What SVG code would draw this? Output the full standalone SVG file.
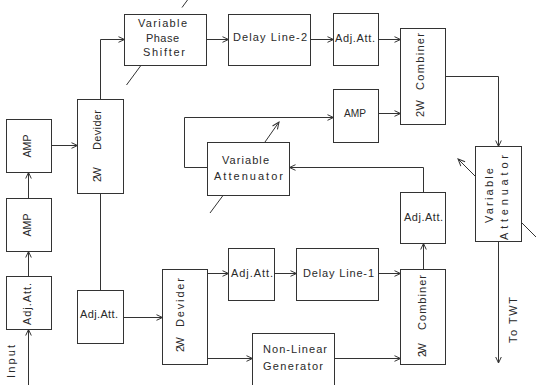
<svg xmlns="http://www.w3.org/2000/svg" width="536" height="385" viewBox="0 0 536 385">
<style>
.b{fill:#fff;stroke:#333;stroke-width:1}
.c{fill:none;stroke:#333;stroke-width:1}
.a{marker-end:url(#ah)}
.t{font-family:"Liberation Sans",Arial,sans-serif;font-size:11px;fill:#2a2a2a}
</style>
<defs>
<marker id="ah" viewBox="-8 -4 9 8" refX="0" refY="0" markerWidth="9" markerHeight="8" markerUnits="userSpaceOnUse" orient="auto" overflow="visible">
<path d="M-6,-2.8 L0,0 L-6,2.8" fill="none" stroke="#333" stroke-width="1"/>
</marker>
<marker id="sh" viewBox="-9 -4 10 8" refX="0" refY="0" markerWidth="10" markerHeight="8" markerUnits="userSpaceOnUse" orient="auto" overflow="visible">
<path d="M-7,-3 L0,0 L-7,3" fill="none" stroke="#333" stroke-width="1"/>
</marker>
</defs>
<rect x="0" y="0" width="536" height="385" fill="#fff"/>

<g id="connectors">
<path class="c a" d="M28.5,385 V329.5"/>
<path class="c a" d="M28.5,276.5 V251.5"/>
<path class="c a" d="M28.5,198.5 V172.5"/>
<path class="c a" d="M51.5,145.5 H77.5"/>
<path class="c a" d="M100.5,99.5 V39.5 H124.5"/>
<path class="c a" d="M206.5,39.5 H228.5"/>
<path class="c a" d="M310.5,39.5 H333.5"/>
<path class="c a" d="M378.5,39.5 H400.5"/>
<path class="c" d="M100.5,193.5 V290.5"/>
<path class="c a" d="M123.5,317.5 H162.5"/>
<path class="c a" d="M207.5,273.5 H228.5"/>
<path class="c a" d="M274.5,273.5 H296.5"/>
<path class="c a" d="M378.5,273.5 H400.5"/>
<path class="c a" d="M207.5,358.5 H252.5"/>
<path class="c a" d="M334.5,358.5 H400.5"/>
<path class="c a" d="M423.5,269.5 V243.5"/>
<path class="c a" d="M423.5,192.5 V167.5 H289.5"/>
<path class="c a" d="M207.5,167.5 H184.5 V117.5 H333.5"/>
<path class="c a" d="M378.5,113.5 H400.5"/>
<path class="c a" d="M445.5,76.5 H498.5 V146.5"/>
<path class="c a" d="M498.5,241.5 V363"/>
</g>

<g id="vps">
<rect class="b" x="124.5" y="14.5" width="82" height="51"/>
<path class="c" d="M126.5,85 L140.5,66 M182,7.5 L187.5,0"/>
<text class="t" x="138" y="27" textLength="49" lengthAdjust="spacing">Variable</text>
<text class="t" x="146" y="42" textLength="33" lengthAdjust="spacing">Phase</text>
<text class="t" x="143" y="56" textLength="42" lengthAdjust="spacing">Shifter</text>
</g>
<g id="dl2">
<rect class="b" x="228.5" y="14.5" width="82" height="51"/>
<text class="t" x="233" y="41" textLength="74" lengthAdjust="spacing">Delay Line-2</text>
</g>
<g id="adj-top">
<rect class="b" x="333.5" y="13.5" width="45" height="52"/>
<text class="t" x="335" y="42" textLength="40" lengthAdjust="spacing">Adj.Att.</text>
</g>
<g id="comb-up">
<rect class="b" x="400.5" y="28.5" width="45" height="96"/>
<text class="t" transform="translate(424,117) rotate(-90)"><tspan x="0" textLength="17" lengthAdjust="spacing">2W</tspan> <tspan x="27" textLength="57" lengthAdjust="spacing">Combiner</tspan></text>
</g>
<g id="amp-mid">
<rect class="b" x="333.5" y="89.5" width="45" height="53"/>
<text class="t" x="344" y="117" textLength="22" lengthAdjust="spacingAndGlyphs">AMP</text>
</g>
<g id="var-att-mid">
<rect class="b" x="207.5" y="142.5" width="82" height="53"/>
<path class="c" d="M210,213 L223,195.5"/>
<path class="c" d="M265,142 L279,122" marker-end="url(#sh)"/>
<text class="t" x="222" y="164" textLength="47" lengthAdjust="spacing">Variable</text>
<text class="t" x="214" y="180" textLength="69" lengthAdjust="spacing">Attenuator</text>
</g>
<g id="var-att-right">
<rect class="b" x="475.5" y="146.5" width="46" height="95"/>
<path class="c" d="M475,176 L458,159" marker-end="url(#sh)"/>
<path class="c" d="M522,223 L536,237"/>
<text class="t" transform="translate(493,223) rotate(-90)" textLength="55" lengthAdjust="spacing">Variable</text>
<text class="t" transform="translate(508,240) rotate(-90)" textLength="85" lengthAdjust="spacing">Attenuator</text>
</g>
<g id="amp1">
<rect class="b" x="6.5" y="119.5" width="45" height="53"/>
<text class="t" transform="translate(31,157.5) rotate(-90)" textLength="23" lengthAdjust="spacingAndGlyphs">AMP</text>
</g>
<g id="amp2">
<rect class="b" x="6.5" y="198.5" width="45" height="53"/>
<text class="t" transform="translate(31,236.5) rotate(-90)" textLength="23" lengthAdjust="spacingAndGlyphs">AMP</text>
</g>
<g id="adj-left">
<rect class="b" x="6.5" y="276.5" width="45" height="53"/>
<text class="t" transform="translate(31,325) rotate(-90)" textLength="42" lengthAdjust="spacing">Adj.Att.</text>
</g>
<g id="input">
<text class="t" transform="translate(15,378) rotate(-90)" textLength="33" lengthAdjust="spacing">Input</text>
</g>
<g id="div-up">
<rect class="b" x="77.5" y="99.5" width="46" height="94"/>
<text class="t" transform="translate(101,182) rotate(-90)"><tspan x="0" textLength="15" lengthAdjust="spacing">2W</tspan> <tspan x="32" textLength="40" lengthAdjust="spacing">Devider</tspan></text>
</g>
<g id="adj-mid">
<rect class="b" x="77.5" y="290.5" width="46" height="53"/>
<text class="t" x="80" y="318" textLength="38" lengthAdjust="spacing">Adj.Att.</text>
</g>
<g id="div-low">
<rect class="b" x="162.5" y="269.5" width="45" height="95"/>
<text class="t" transform="translate(184,352) rotate(-90)"><tspan x="0" textLength="15" lengthAdjust="spacing">2W</tspan> <tspan x="25" textLength="49" lengthAdjust="spacing">Devider</tspan></text>
</g>
<g id="adj-bot">
<rect class="b" x="228.5" y="248.5" width="46" height="52"/>
<text class="t" x="231" y="277" textLength="42" lengthAdjust="spacing">Adj.Att.</text>
</g>
<g id="dl1">
<rect class="b" x="296.5" y="248.5" width="82" height="52"/>
<text class="t" x="303" y="277" textLength="71" lengthAdjust="spacing">Delay Line-1</text>
</g>
<g id="nlg">
<rect class="b" x="252.5" y="333.5" width="82" height="60"/>
<text class="t" x="263" y="353" textLength="64" lengthAdjust="spacing">Non-Linear</text>
<text class="t" x="263" y="370" textLength="60" lengthAdjust="spacing">Generator</text>
</g>
<g id="comb-low">
<rect class="b" x="400.5" y="269.5" width="45" height="95"/>
<text class="t" transform="translate(426,357) rotate(-90)"><tspan x="0" textLength="14" lengthAdjust="spacing">2W</tspan> <tspan x="27" textLength="55" lengthAdjust="spacing">Combiner</tspan></text>
</g>
<g id="adj-right">
<rect class="b" x="400.5" y="192.5" width="45" height="51"/>
<text class="t" x="404" y="221" textLength="39" lengthAdjust="spacing">Adj.Att.</text>
</g>
<g id="to-twt">
<text class="t" transform="translate(517,343) rotate(-90)" textLength="46" lengthAdjust="spacing">To TWT</text>
</g>
</svg>
